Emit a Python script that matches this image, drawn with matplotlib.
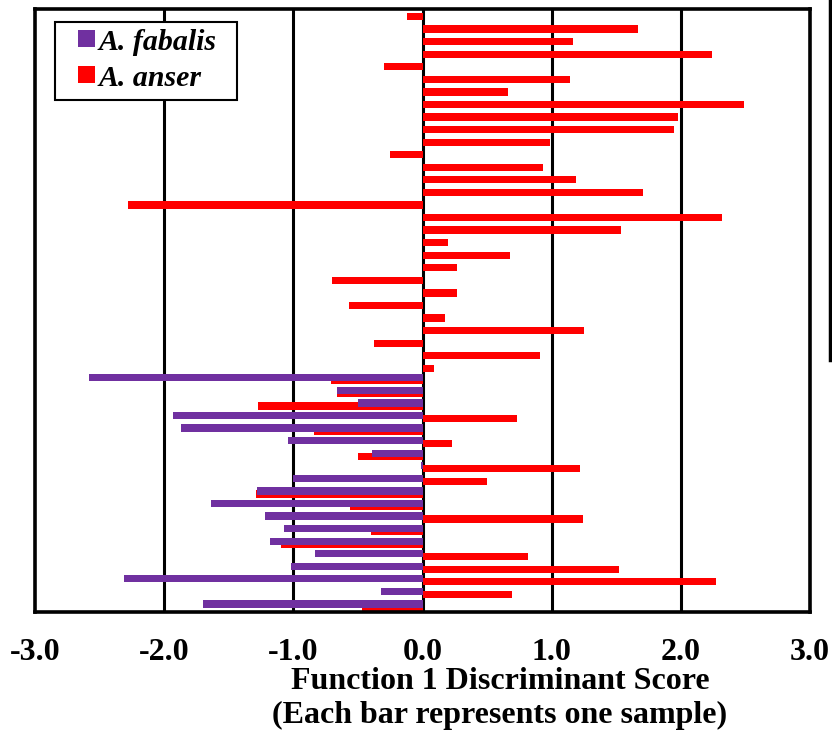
import numpy as np
import matplotlib
matplotlib.use("Agg")
import matplotlib.pyplot as plt
from matplotlib.lines import Line2D
from matplotlib.patches import Rectangle
from matplotlib.legend_handler import HandlerPatch

# ---- data ----
red_values = [-0.12, 1.67, 1.165, 2.24, -0.30, 1.14, 0.66, 2.49, 1.98, 1.945,
              0.99, -0.25, 0.93, 1.19, 1.71, -2.28, 2.315, 1.535, 0.20, 0.68,
              0.27, -0.70, 0.27, -0.57, 0.176, 1.25, -0.375, 0.91, 0.09, -0.71,
              -0.66, -1.27, 0.73, -0.84, 0.23, -0.50, 1.22, 0.50, -1.29, -0.56,
              1.24, -0.395, -1.095, 0.82, 1.52, 2.27, 0.69, -0.47]
purple_tail = [-2.58, -0.66, -0.50, -1.93, -1.87, -1.04, -0.39, -0.01, -1.00,
               -1.28, -1.64, -1.22, -1.075, -1.18, -0.83, -1.02, -2.31, -0.32, -1.70]
n_rows = len(red_values)
purple_values = [np.nan] * (n_rows - len(purple_tail)) + purple_tail
series_names = ["A. fabalis", "A. anser"]
series_colors = ["#7030A0", "#FF0000"]
xticks = [-3.0, -2.0, -1.0, 0.0, 1.0, 2.0, 3.0]
xtick_labels = ["-3.0", "-2.0", "-1.0", "0.0", "1.0", "2.0", "3.0"]
xlabel = "Function 1 Discriminant Score\n(Each bar represents one sample)"

# ---- figure ----
W, H = 832, 735
fig = plt.figure(figsize=(W / 100, H / 100), dpi=100)
L, R, T, B = 35, 810, 9, 612
ax = fig.add_axes([L / W, 1 - B / H, (R - L) / W, (B - T) / H])

rows = np.arange(n_rows)
ax.barh(rows + 0.10, red_values, height=0.58, color=series_colors[1],
        zorder=2, linewidth=0)
ax.barh(rows - 0.14, purple_values, height=0.58, color=series_colors[0],
        zorder=3, linewidth=0)

ax.set_xlim(-3, 3)
ax.set_ylim(n_rows - 0.5, -0.5)
ax.set_yticks([])
ax.set_xticks(xticks)
ax.set_xticklabels(xtick_labels, fontfamily="Liberation Serif",
                   fontweight="bold", fontsize=23)
ax.tick_params(axis="x", length=0, pad=19)

for x in xticks[1:-1]:
    ax.axvline(x, color="black", linewidth=2.2, zorder=1)

for s in ax.spines.values():
    s.set_linewidth(2.6)
    s.set_color("black")

ax.set_xlabel(xlabel, fontfamily="Liberation Serif", fontweight="bold",
              fontsize=23, linespacing=1.24)
ax.xaxis.set_label_coords((500 - L) / (R - L), -(667 - B) / (B - T))
ax.xaxis.label.set_va("top")


def square_handle(legend, orig_handle, xdescent, ydescent, width, height, fontsize):
    size = 12.6
    return Rectangle((-xdescent + width - size, -ydescent + (height - size) / 2 + 1),
                     size, size)


proxies = [Rectangle((0, 0), 1, 1, facecolor=c, edgecolor="none")
           for c in series_colors]
x0 = (55 - L) / (R - L)
w = (237 - 55) / (R - L)
ytop = (B - 22) / (B - T)
leg = ax.legend(proxies, series_names,
                loc="upper left", mode="expand",
                bbox_to_anchor=(x0, ytop - 0.4, w, 0.4),
                borderaxespad=0, fancybox=False, framealpha=1,
                edgecolor="black", handlelength=1.1, handleheight=0.7,
                handletextpad=0.1, labelspacing=0.3, borderpad=0.25,
                handler_map={Rectangle: HandlerPatch(patch_func=square_handle)},
                prop={"family": "Liberation Serif", "weight": "bold",
                      "style": "italic", "size": 21.5})
leg.get_frame().set_linewidth(1.5)
leg.set_zorder(5)

# stray vertical line at right edge of reference image
fig.add_artist(Line2D([830 / W, 830 / W], [1.0, 1 - 360 / H],
                      transform=fig.transFigure, color="black", linewidth=2.5))

fig.savefig("out.png", dpi=100)
